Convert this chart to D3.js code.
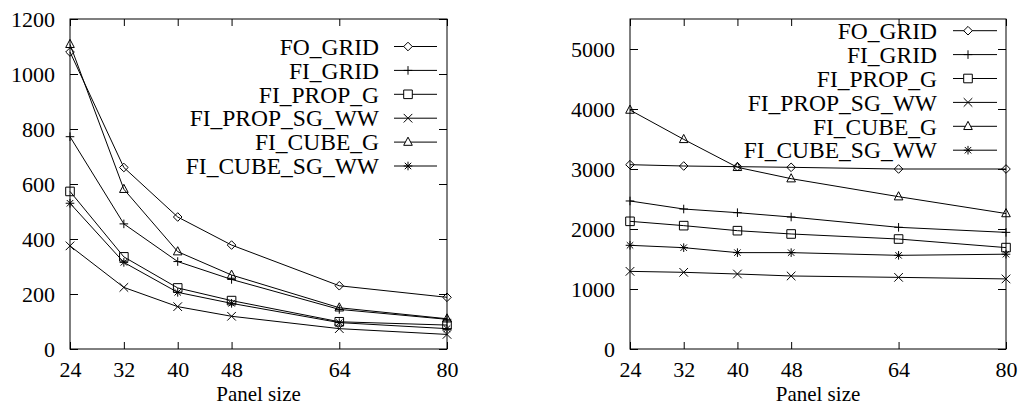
<!DOCTYPE html>
<html><head><meta charset="utf-8">
<script src="https://cdn.jsdelivr.net/npm/d3@7"></script>
<style>body{margin:0;background:#fff;} svg{display:block;} text{font-family:"Liberation Serif","Times New Roman",serif;fill:#000;}</style>
</head><body>
<svg id="chart" width="1018" height="406"></svg>
<script>
const panelSizes = [24, 32, 40, 48, 64, 80];
const seriesNames = ["FO_GRID", "FI_GRID", "FI_PROP_G", "FI_PROP_SG_WW", "FI_CUBE_G", "FI_CUBE_SG_WW"];
const markerTypes = ["diamond", "plus", "square", "cross", "triangle", "star"];

// Left chart values
const leftFO_GRID       = [1080, 660, 480, 378, 230, 188];
const leftFI_GRID       = [772, 455, 318, 253, 144, 108];
const leftFI_PROP_G     = [573, 335, 222, 176, 99, 87];
const leftFI_PROP_SG_WW = [375, 224, 154, 119, 74, 53];
const leftFI_CUBE_G     = [1108, 581, 354, 269, 150, 110];
const leftFI_CUBE_SG_WW = [530, 315, 206, 166, 96, 74];
const leftYTicks = [0, 200, 400, 600, 800, 1000, 1200];

// Right chart values
const rightFO_GRID       = [3072, 3050, 3039, 3028, 3000, 3000];
const rightFI_GRID       = [2467, 2333, 2272, 2200, 2028, 1944];
const rightFI_PROP_G     = [2128, 2056, 1972, 1917, 1833, 1690];
const rightFI_PROP_SG_WW = [1294, 1278, 1250, 1217, 1194, 1168];
const rightFI_CUBE_G     = [3983, 3494, 3028, 2839, 2539, 2258];
const rightFI_CUBE_SG_WW = [1728, 1689, 1606, 1606, 1561, 1580];
const rightYTicks = [0, 1000, 2000, 3000, 4000, 5000];

const xLabel = "Panel size";

const svg = d3.select("#chart");
svg.append("rect").attr("width", 1018).attr("height", 406).attr("fill", "#fff");

function markerPath(type, r) {
  switch (type) {
    case "diamond": return `M0,${-r}L${r},0L0,${r}L${-r},0Z`;
    case "plus": return `M${-r},0H${r}M0,${-r}V${r}`;
    case "square": return `M${-r},${-r}H${r}V${r}H${-r}Z`;
    case "cross": return `M${-r},${-r}L${r},${r}M${-r},${r}L${r},${-r}`;
    case "triangle": return `M0,${-r*1.15}L${r},${r*0.75}L${-r},${r*0.75}Z`;
    case "star": return `M${-r},0H${r}M0,${-r}V${r}M${-r*0.75},${-r*0.75}L${r*0.75},${r*0.75}M${-r*0.75},${r*0.75}L${r*0.75},${-r*0.75}`;
  }
}

function drawChart(cfg) {
  const g = svg.append("g");
  const x = d3.scaleLinear().domain([24, 80]).range([cfg.x0, cfg.x1]);
  const y = d3.scaleLinear().domain([0, cfg.ymax]).range([349, 19]);

  const fmt = d3.format("d");
  const left = g.append("g").attr("transform", `translate(${cfg.x0},0)`)
    .call(d3.axisLeft(y).tickValues(cfg.yTicks).tickFormat(fmt).tickSizeInner(-8).tickSizeOuter(0).tickPadding(15));
  const right = g.append("g").attr("transform", `translate(${cfg.x1},0)`)
    .call(d3.axisRight(y).tickValues(cfg.yTicks).tickSizeInner(-8).tickSizeOuter(0).tickFormat(""));
  const bottom = g.append("g").attr("transform", `translate(0,349)`)
    .call(d3.axisBottom(x).tickValues(panelSizes).tickFormat(fmt).tickSizeInner(-7).tickSizeOuter(0).tickPadding(12.5));
  const top = g.append("g").attr("transform", `translate(0,19)`)
    .call(d3.axisTop(x).tickValues(panelSizes).tickSizeInner(-7).tickSizeOuter(0).tickFormat(""));
  [left, right, bottom, top].forEach(a => {
    a.attr("font-family", null).attr("font-size", null);
    a.select(".domain").remove();
    a.selectAll("line").attr("stroke", "#000").attr("stroke-width", 1);
  });
  left.selectAll("text").attr("font-size", 22).attr("dy", "0.33em");
  bottom.selectAll("text").attr("font-size", 22).attr("dy", "0.71em");

  g.append("rect").attr("x", cfg.x0).attr("y", 19).attr("width", cfg.x1 - cfg.x0).attr("height", 330)
    .attr("fill", "none").attr("stroke", "#000").attr("stroke-width", 1);

  const line = d3.line().x((d, i) => x(panelSizes[i])).y(d => y(d));
  cfg.series.forEach((vals, si) => {
    g.append("path").attr("d", line(vals)).attr("fill", "none").attr("stroke", "#000").attr("stroke-width", 1);
    g.selectAll(null).data(vals).enter().append("path")
      .attr("transform", (d, i) => `translate(${x(panelSizes[i])},${y(d)})`)
      .attr("d", markerPath(markerTypes[si], 4.3))
      .attr("fill", "none").attr("stroke", "#000").attr("stroke-width", 1);
  });

  seriesNames.forEach((name, i) => {
    const ly = cfg.legY + i * 23.9;
    g.append("text").attr("x", cfg.legTextX).attr("y", ly).attr("dy", "0.35em")
      .attr("text-anchor", "end").attr("font-size", 23.5).text(name);
    g.append("line").attr("x1", cfg.legLineX1).attr("x2", cfg.legLineX2).attr("y1", ly).attr("y2", ly)
      .attr("stroke", "#000").attr("stroke-width", 1);
    g.append("path").attr("transform", `translate(${cfg.legMarkX},${ly})`)
      .attr("d", markerPath(markerTypes[i], 4.3)).attr("fill", "#fff").attr("stroke", "#000");
  });

  g.append("text").attr("x", (cfg.x0 + cfg.x1) / 2).attr("y", 401.2).attr("text-anchor", "middle")
    .attr("font-size", 21).text(xLabel);
}

drawChart({
  x0: 70, x1: 447, ymax: 1200, yTicks: leftYTicks,
  series: [leftFO_GRID, leftFI_GRID, leftFI_PROP_G, leftFI_PROP_SG_WW, leftFI_CUBE_G, leftFI_CUBE_SG_WW],
  legY: 46.5, legTextX: 379, legLineX1: 394, legLineX2: 437, legMarkX: 408
});
drawChart({
  x0: 630, x1: 1006, ymax: 5500, yTicks: rightYTicks,
  series: [rightFO_GRID, rightFI_GRID, rightFI_PROP_G, rightFI_PROP_SG_WW, rightFI_CUBE_G, rightFI_CUBE_SG_WW],
  legY: 30.7, legTextX: 937, legLineX1: 953, legLineX2: 997, legMarkX: 968
});
</script>
</body></html>
